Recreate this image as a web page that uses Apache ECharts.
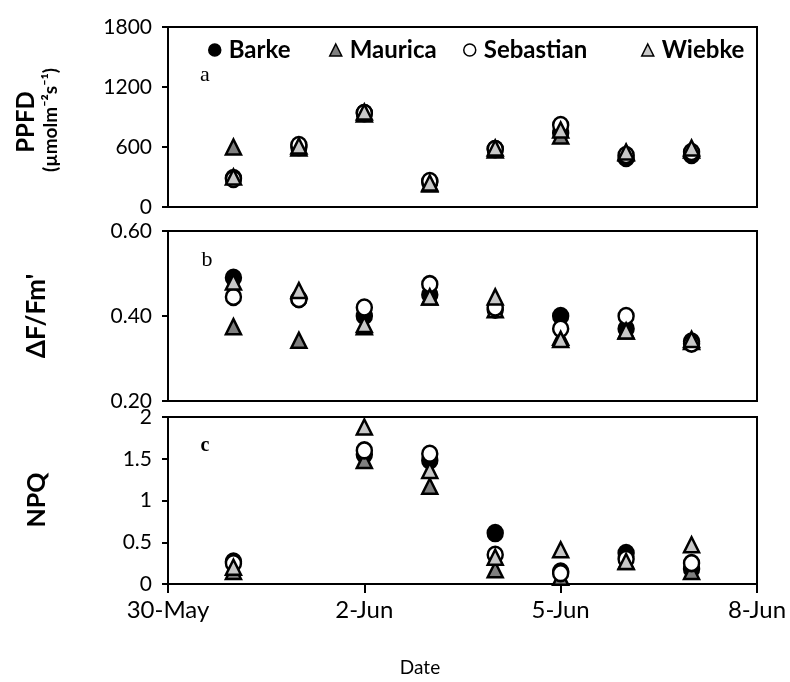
<!DOCTYPE html>
<html>
<head>
<meta charset="utf-8">
<script src="https://cdn.jsdelivr.net/npm/echarts@6/dist/echarts.min.js"></script>
<style>
html,body{margin:0;padding:0;background:#fff;}
#chart{width:790px;height:682px;}
</style>
</head>
<body>
<div id="chart"></div>
<script>
// ---- data ----
const dates = ['31-May','1-Jun','2-Jun','3-Jun','4-Jun','5-Jun','6-Jun','7-Jun'];
const dayOffset = [1,2,3,4,5,6,7,8]; // days since 30-May
const xTickLabels = ['30-May','2-Jun','5-Jun','8-Jun'];
const varieties = ['Barke','Maurica','Sebastian','Wiebke'];

// panel a: PPFD
const ppfdBarke     = [290, 600, 940, 250, 580, 740, 490, 520];
const ppfdMaurica   = [600, 590, 930, 230, 570, 710, 540, 570];
const ppfdSebastian = [280, 620, 940, 260, 580, 820, 520, 550];
const ppfdWiebke    = [300, 610, 950, 240, 590, 770, 550, 590];

// panel b: dF/Fm'
const yieldBarke     = [0.490, 0.440, 0.400, 0.450, 0.415, 0.400, 0.370, 0.340];
const yieldMaurica   = [0.375, 0.343, 0.375, 0.445, 0.415, 0.350, 0.365, 0.340];
const yieldSebastian = [0.445, 0.440, 0.420, 0.475, 0.420, 0.370, 0.400, 0.335];
const yieldWiebke    = [0.480, 0.460, 0.380, 0.445, 0.445, 0.345, 0.365, 0.345];

// panel c: NPQ
const npqBarke     = [0.27, null, 1.55, 1.48, 0.61, 0.15, 0.37, 0.18];
const npqMaurica   = [0.15, null, 1.48, 1.17, 0.17, 0.08, 0.27, 0.15];
const npqSebastian = [0.25, null, 1.60, 1.56, 0.35, 0.13, 0.30, 0.25];
const npqWiebke    = [0.20, null, 1.88, 1.36, 0.32, 0.41, 0.27, 0.47];

const yTicksA = [0, 600, 1200, 1800];
const yTicksB = [0.20, 0.40, 0.60];
const yTicksC = [0, 0.5, 1, 1.5, 2];

// ---- styles ----
const FONT = 'Lato, "Open Sans", sans-serif';
const markerStyle = {
  Barke:     {symbol:'circle',   color:'#000000'},
  Maurica:   {symbol:'triangle', color:'#7f7f7f'},
  Sebastian: {symbol:'circle',   color:'#ffffff'},
  Wiebke:    {symbol:'triangle', color:'#c8c8c8'}
};
const panels = [
  {vals:[ppfdBarke, ppfdMaurica, ppfdSebastian, ppfdWiebke], ticks:yTicksA, fmt: v => String(v)},
  {vals:[yieldBarke, yieldMaurica, yieldSebastian, yieldWiebke], ticks:yTicksB, fmt: v => v.toFixed(2)},
  {vals:[npqBarke, npqMaurica, npqSebastian, npqWiebke], ticks:yTicksC, fmt: v => String(v)}
];
const gridPos = [
  {top:27, height:180},
  {top:231, height:170},
  {top:417, height:167}
];

const grids = gridPos.map(g => ({
  left:168, right:33, top:g.top, height:g.height,
  show:true, borderColor:'#000', borderWidth:2, backgroundColor:'transparent'
}));

const xAxes = gridPos.map((g,i) => ({
  type:'value', gridIndex:i, min:0, max:9, interval:3,
  axisLine:{show:true, lineStyle:{color:'#000', width:2}},
  axisTick:{show:i===2, length:9, inside:false, lineStyle:{color:'#000', width:2}},
  splitLine:{show:false},
  axisLabel:{show:i===2, margin:14, fontFamily:FONT, fontSize:24, color:'#000',
    formatter: v => xTickLabels[Math.round(v/3)] || ''}
}));

const yAxes = panels.map((p,i) => ({
  type:'value', gridIndex:i,
  min:p.ticks[0], max:p.ticks[p.ticks.length-1],
  interval:p.ticks[1]-p.ticks[0],
  axisLine:{show:true, lineStyle:{color:'#000', width:2}},
  axisTick:{show:true, length:6, inside:false, lineStyle:{color:'#000', width:2}},
  splitLine:{show:false},
  axisLabel:{margin:16, fontFamily:FONT, fontSize:21, color:'#000', formatter:p.fmt}
}));

const series = [];
panels.forEach((p,pi) => {
  varieties.forEach((name,vi) => {
    const ms = markerStyle[name];
    series.push({
      name:name, type:'scatter', xAxisIndex:pi, yAxisIndex:pi,
      symbol:ms.symbol, symbolSize: ms.symbol==='triangle' ? [15,15] : [15,16],
      itemStyle:{color:ms.color, borderColor:'#000', borderWidth:2.5, opacity:1},
      emphasis:{disabled:true},
      z: 2+vi,
      data: dayOffset.map((d,k) => p.vals[vi][k]==null ? null : [d, p.vals[vi][k]])
    });
  });
});

const legendLefts = [203, 324, 458, 636];
const legends = varieties.map((name,i) => ({
  data:[{name:name, icon:markerStyle[name].symbol}],
  left:legendLefts[i], top:33,
  itemWidth:12, itemHeight:12, itemGap:0,
  selectedMode:false,
  textStyle:{fontFamily:FONT, fontSize:24, fontWeight:'bold', color:'#000', padding:[0,0,0,3]},
  itemStyle:{borderColor:'#000', borderWidth:1.5}
}));

const graphics = [
  {type:'text', x:205, y:75, style:{text:'a', fontFamily:'"Liberation Serif", serif', fontSize:22, fill:'#000', align:'center', verticalAlign:'middle'}},
  {type:'text', x:207, y:260, style:{text:'b', fontFamily:'"Liberation Serif", serif', fontSize:22, fill:'#000', align:'center', verticalAlign:'middle'}},
  {type:'text', x:205, y:446, style:{text:'c', fontFamily:'"Liberation Serif", serif', fontSize:20, fontWeight:'bold', fill:'#000', align:'center', verticalAlign:'middle'}},
  {type:'text', x:26, y:122, rotation:Math.PI/2, style:{text:'PPFD', fontFamily:FONT, fontSize:24, fontWeight:'bold', fill:'#000', align:'center', verticalAlign:'middle'}},
  {type:'text', x:51, y:120, rotation:Math.PI/2, style:{text:'(µmolm⁻²s⁻¹)', fontFamily:FONT, fontSize:19, fontWeight:'bold', fill:'#000', align:'center', verticalAlign:'middle'}},
  {type:'text', x:37, y:316, rotation:Math.PI/2, style:{text:"ΔF/Fm'", fontFamily:FONT, fontSize:26, fontWeight:'bold', fill:'#000', align:'center', verticalAlign:'middle'}},
  {type:'text', x:37, y:500, rotation:Math.PI/2, style:{text:'NPQ', fontFamily:FONT, fontSize:25, fontWeight:'bold', fill:'#000', align:'center', verticalAlign:'middle'}},
  {type:'text', x:420, y:668, style:{text:'Date', fontFamily:FONT, fontSize:19, fill:'#000', align:'center', verticalAlign:'middle'}}
];

const chart = echarts.init(document.getElementById('chart'), null, {renderer:'canvas'});
chart.setOption({
  animation:false,
  backgroundColor:'#fff',
  grid:grids, xAxis:xAxes, yAxis:yAxes,
  legend:legends,
  series:series,
  graphic:graphics
});
</script>
</body>
</html>
